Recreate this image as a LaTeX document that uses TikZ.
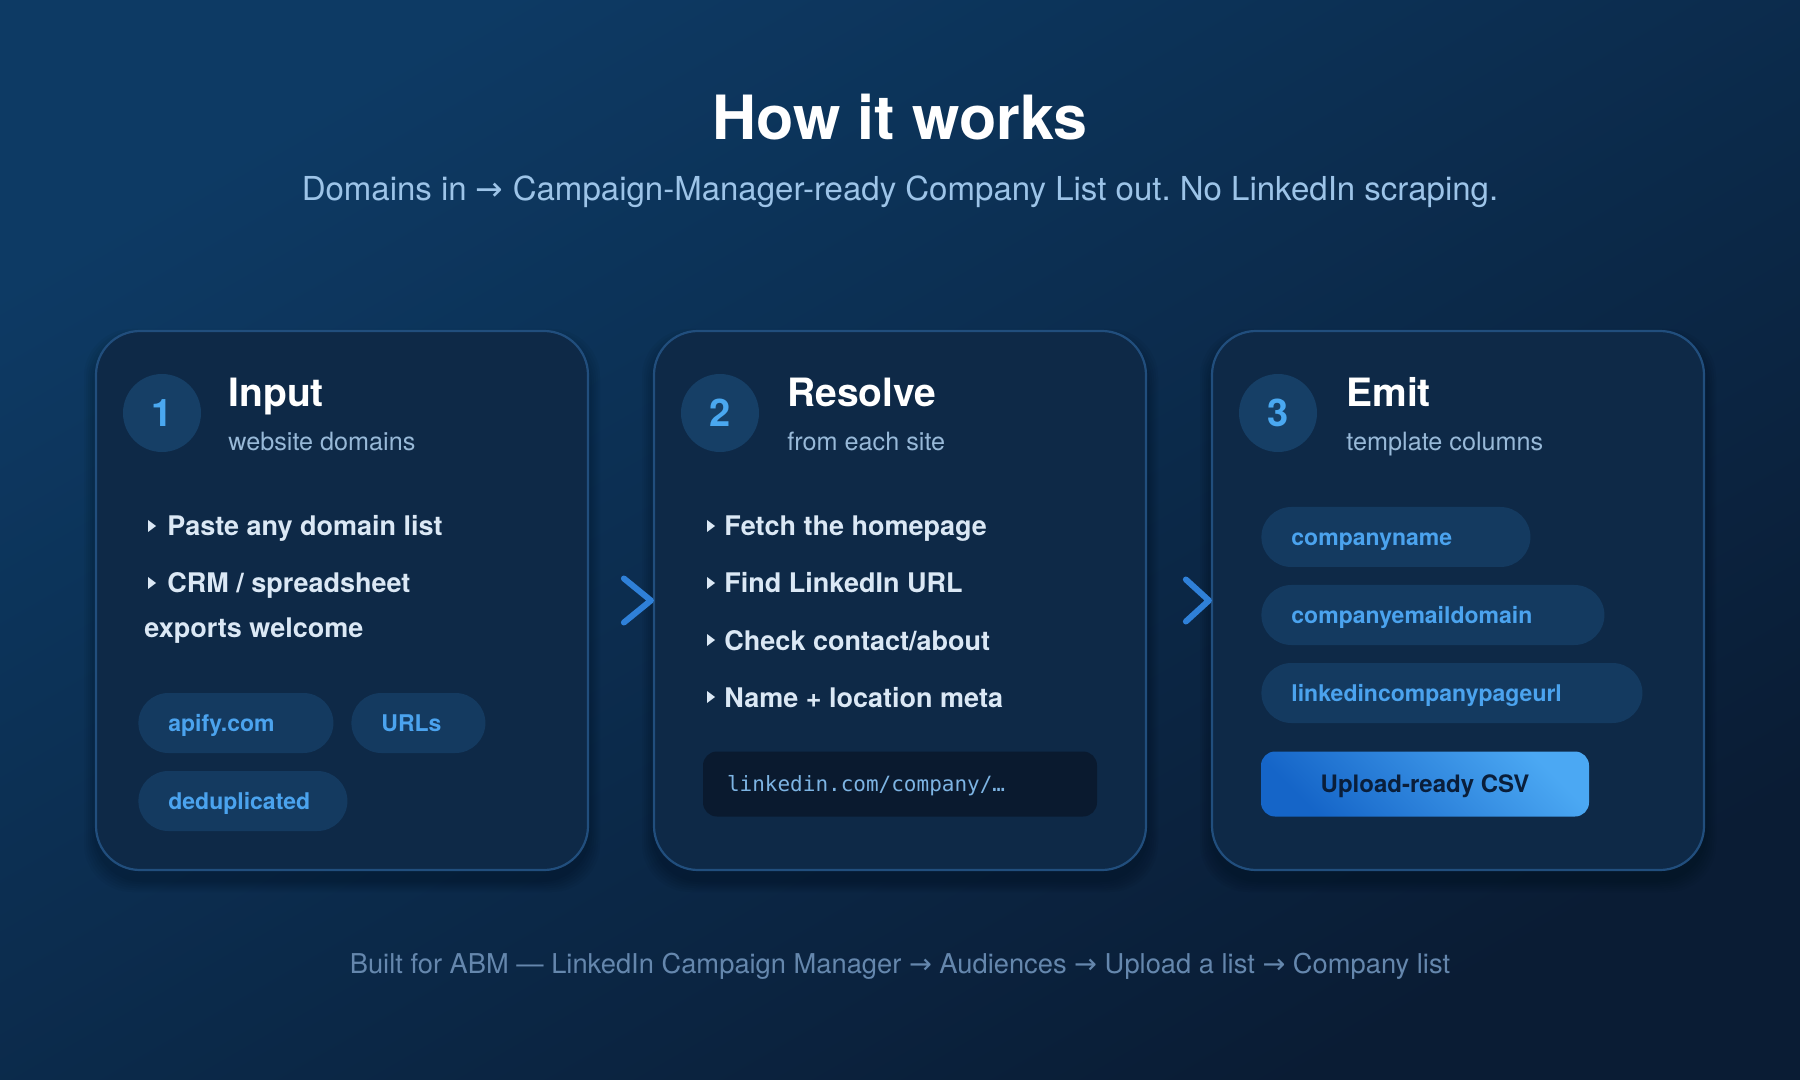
\documentclass[tikz,border=0pt]{standalone}
\usepackage{fontspec}
\setmainfont{TeX Gyre Heros}
\setmonofont{DejaVu Sans Mono}
\newfontfamily\arrowfont{DejaVu Sans}
\usetikzlibrary{calc}
\frenchspacing
\definecolor{bgtop}{HTML}{0D3A64}
\definecolor{bgbot}{HTML}{0A1C34}
\definecolor{cardfill}{HTML}{0E2947}
\definecolor{cardline}{HTML}{214E7D}
\definecolor{circfill}{HTML}{163F66}
\definecolor{numcol}{HTML}{4AA8F0}
\definecolor{chipfill}{HTML}{143A60}
\definecolor{chiptext}{HTML}{4BA3EE}
\definecolor{subcol}{HTML}{98B9D8}
\definecolor{bulcol}{HTML}{DBE8F5}
\definecolor{codefill}{HTML}{0A1A2F}
\definecolor{codetext}{HTML}{7DB4E3}
\definecolor{chev}{HTML}{2F80D8}
\definecolor{btnL}{HTML}{1565C8}
\definecolor{btnR}{HTML}{4BA8F3}
\definecolor{btntext}{HTML}{0A1E3A}
\definecolor{headsub}{HTML}{9DC4E8}
\definecolor{footcol}{HTML}{6587AD}
\newcommand{\fs}[2]{\fontsize{#1}{#2}\selectfont}
\newcommand{\arr}{{\arrowfont\char"2192}}
\begin{document}
\begin{tikzpicture}[x=0.5pt,y=-0.5pt,
  card/.style={draw=cardline, line width=1.1pt, fill=cardfill, rounded corners=22pt,
    minimum width=246pt, minimum height=269.5pt, inner sep=0pt},
  numcirc/.style={circle, fill=circfill, minimum size=39pt, inner sep=0pt, text=numcol,
    font=\bfseries\fs{19}{22}},
  ctitle/.style={anchor=base west, inner sep=0pt, text=white, font=\bfseries\fs{19.5}{23}},
  csub/.style={anchor=base west, inner sep=0pt, text=subcol, font=\fs{12.6}{15}},
  bul/.style={anchor=base west, inner sep=0pt, text=bulcol, font=\bfseries\fs{13.5}{16}},
  chip/.style={anchor=west, fill=chipfill, rounded corners=15pt, minimum height=30pt,
    inner xsep=15pt, inner ysep=0pt, text height=9.3pt, text depth=1pt,
    text=chiptext, font=\bfseries\fs{11.5}{14}, align=left},
  chev/.style={draw=chev, line width=3pt, line cap=round, line join=round},
]
\useasboundingbox (0,0) rectangle (1800,1080);
\shade[top color=bgtop, bottom color=bgbot, shading angle=30] (0,0) rectangle (1800,1080);

% header
\node[anchor=base, inner sep=0pt, text=white, font=\bfseries\fs{30.5}{36}] (title) at (900,140) {How it works};
\node[anchor=base, inner sep=0pt, text=headsub, font=\fs{16.5}{19}] (subtitle) at (900,201)
  {Domains in \arr{} Campaign-Manager-ready Company List out. No LinkedIn scraping.};

% card shadows
\foreach \cx in {342,900,1458}{
  \foreach \i in {1,...,6}{
    \fill[black, opacity=0.035, rounded corners=24pt]
      (\cx-246-2*\i, 331-2*\i+10) rectangle (\cx+246+2*\i, 870+2*\i+10);
  }
}

% cards
\node[card] (c1) at (342,600.5) {};
\node[card] (c2) at (900,600.5) {};
\node[card] (c3) at (1458,600.5) {};

% chevrons
\draw[chev] ($(c2.west)+(-29,-22)$) -- ($(c2.west)+(-2,0)$) -- ($(c2.west)+(-29,22)$);
\draw[chev] ($(c3.west)+(-25,-21)$) -- ($(c3.west)+(-2,0)$) -- ($(c3.west)+(-25,21)$);

% card 1
\node[numcirc] (n1) at (162,413) {1};
\node[ctitle] (t1) at (228,407) {Input};
\node[csub] (s1) at (228,451) {website domains};
\fill[bulcol] (148,520) -- (148,532) -- (156,526) -- cycle;
\node[bul] (b11) at (167,536) {Paste any domain list};
\fill[bulcol] (148,577) -- (148,589) -- (156,583) -- cycle;
\node[bul] (b12) at (167,593) {CRM / spreadsheet};
\node[bul] (b13) at (144,638) {exports welcome};
\node[chip, text width=67.5pt] (k11) at (138,723) {apify.com};
\node[chip, text width=37pt] (k12) at (351,723) {URLs};
\node[chip, text width=74.5pt] (k13) at (138,801) {deduplicated};

% card 2
\node[numcirc] (n2) at (720,413) {2};
\node[ctitle] (t2) at (787,407) {Resolve};
\node[csub] (s2) at (787,451) {from each site};
\fill[bulcol] (707,520) -- (707,532) -- (715,526) -- cycle;
\node[bul] (b21) at (724,536) {Fetch the homepage};
\fill[bulcol] (707,577) -- (707,589) -- (715,583) -- cycle;
\node[bul] (b22) at (724,593) {Find LinkedIn URL};
\fill[bulcol] (707,634) -- (707,646) -- (715,640) -- cycle;
\node[bul] (b23) at (724,650) {Check contact/about};
\fill[bulcol] (707,691) -- (707,703) -- (715,697) -- cycle;
\node[bul] (b24) at (724,707) {Name + location meta};
\node[fill=codefill, rounded corners=7pt, minimum height=32.5pt, inner xsep=12pt, inner ysep=0pt,
  text height=7.5pt, text depth=0.5pt,
  text width=173pt, align=left, text=codetext, font=\ttfamily\fs{10.5}{13}] (code) at (900,784)
  {linkedin.com/company/…};

% card 3
\node[numcirc] (n3) at (1278,413) {3};
\node[ctitle] (t3) at (1346,407) {Emit};
\node[csub] (s3) at (1346,451) {template columns};
\node[chip, text width=104.5pt] (k31) at (1261,537) {companyname};
\node[chip, text width=141.5pt] (k32) at (1261,615) {companyemaildomain};
\node[chip, text width=160.5pt] (k33) at (1261,693) {linkedincompanypageurl};
\node[rounded corners=7pt, minimum width=164pt, minimum height=32.5pt, inner sep=0pt,
  shading=axis, top color=btnL, bottom color=btnR, shading angle=135,
  text height=9pt, text depth=0.5pt,
  text=btntext, font=\bfseries\fs{12}{14}] (btn) at (1425,784) {Upload-ready CSV};

% footer
\node[anchor=base, inner sep=0pt, text=footcol, font=\fs{13.65}{16}] (foot) at (900,973)
  {Built for ABM — LinkedIn Campaign Manager \arr{} Audiences \arr{} Upload a list \arr{} Company list};
\end{tikzpicture}
\end{document}
